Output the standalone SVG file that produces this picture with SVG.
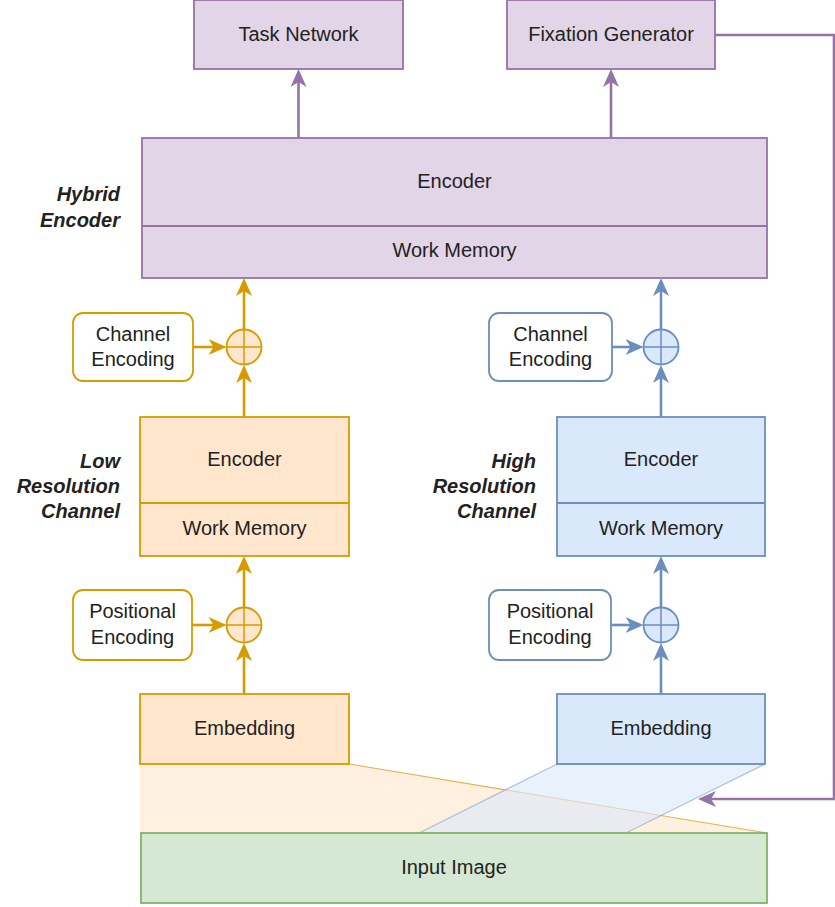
<svg xmlns="http://www.w3.org/2000/svg" width="835" height="907" viewBox="0 0 835 907">
<style>
text{font-family:"Liberation Sans",Arial,sans-serif;font-size:20px;fill:#222;text-anchor:middle}
.lbl{font-weight:bold;font-style:italic;text-anchor:end}
.pur{fill:#e1d5e7;stroke:#9673a6;stroke-width:1.8}
.org{fill:#ffe6cc;stroke:#d79b00;stroke-width:1.8}
.blu{fill:#dae8fc;stroke:#6c8ebf;stroke-width:1.8}
.grn{fill:#d5e8d4;stroke:#82b366;stroke-width:1.8}
.orgR{fill:#fff;stroke:#d79b00;stroke-width:1.8}
.bluR{fill:#fff;stroke:#6c8ebf;stroke-width:1.8}
.ca{stroke:#d79b00;stroke-width:2.6;fill:none;marker-end:url(#mo)}
.cb{stroke:#6c8ebf;stroke-width:2.6;fill:none;marker-end:url(#mb)}
.cp{stroke:#9673a6;stroke-width:2.6;fill:none;marker-end:url(#mp)}
.xo{stroke:#d79b00;stroke-width:1.5}
.xb{stroke:#6c8ebf;stroke-width:1.5}
</style>
<defs>
<marker id="mo" markerUnits="userSpaceOnUse" markerWidth="18" markerHeight="16" refX="14" refY="8" orient="auto"><path d="M0,0 L18,8 L0,16 L5,8 z" fill="#d79b00"/></marker>
<marker id="mb" markerUnits="userSpaceOnUse" markerWidth="18" markerHeight="16" refX="14" refY="8" orient="auto"><path d="M0,0 L18,8 L0,16 L5,8 z" fill="#6c8ebf"/></marker>
<marker id="mp" markerUnits="userSpaceOnUse" markerWidth="18" markerHeight="16" refX="14" refY="8" orient="auto"><path d="M0,0 L18,8 L0,16 L5,8 z" fill="#9673a6"/></marker>
</defs>

<g id="projections">
<polygon points="140,764 349,764 767,833 140,833" fill="#ffe6cc" fill-opacity="0.6"/>
<line x1="349" y1="764" x2="767" y2="833" stroke="#e6b24d" stroke-width="1.2"/>
<polygon points="557,764 765,764 626,833 419,833" fill="#dae8fc" fill-opacity="0.6" stroke="#6c8ebf" stroke-opacity="0.5" stroke-width="1.2"/>
</g>

<g id="task-network"><rect class="pur" x="194" y="0" width="209" height="69"/><text x="298.5" y="41">Task Network</text></g>
<g id="fixation-generator"><rect class="pur" x="507" y="0" width="208" height="69"/><text x="611" y="41">Fixation Generator</text></g>

<g id="hybrid-encoder">
<rect class="pur" x="142" y="138" width="625" height="140"/>
<line x1="142" y1="226" x2="767" y2="226" stroke="#9673a6" stroke-width="1.8"/>
<text x="454.5" y="188">Encoder</text>
<text x="454.5" y="257">Work Memory</text>
<text class="lbl" x="120" y="201">Hybrid</text>
<text class="lbl" x="120" y="227">Encoder</text>
</g>

<g id="low-channel-encoding"><rect class="orgR" x="73" y="313" width="120" height="68" rx="10"/><text x="133" y="341">Channel</text><text x="133" y="366">Encoding</text></g>
<g id="low-add-channel"><circle class="org" cx="244" cy="347" r="17.5"/><line class="xo" x1="226.5" y1="347" x2="261.5" y2="347"/><line class="xo" x1="244" y1="329.5" x2="244" y2="364.5"/></g>
<g id="low-encoder">
<rect class="org" x="140" y="417" width="209" height="139"/>
<line x1="140" y1="503" x2="349" y2="503" stroke="#d79b00" stroke-width="1.8"/>
<text x="244.5" y="466">Encoder</text>
<text x="244.5" y="535">Work Memory</text>
<text class="lbl" x="120" y="468">Low</text>
<text class="lbl" x="120" y="493">Resolution</text>
<text class="lbl" x="120" y="518">Channel</text>
</g>
<g id="low-positional-encoding"><rect class="orgR" x="73" y="590" width="119" height="70" rx="10"/><text x="132.5" y="618">Positional</text><text x="132.5" y="644">Encoding</text></g>
<g id="low-add-position"><circle class="org" cx="244" cy="625" r="17.5"/><line class="xo" x1="226.5" y1="625" x2="261.5" y2="625"/><line class="xo" x1="244" y1="607.5" x2="244" y2="642.5"/></g>
<g id="low-embedding"><rect class="org" x="140" y="694" width="209" height="70"/><text x="244.5" y="735">Embedding</text></g>

<g id="high-channel-encoding"><rect class="bluR" x="489" y="313" width="123" height="68" rx="10"/><text x="550.5" y="341">Channel</text><text x="550.5" y="366">Encoding</text></g>
<g id="high-add-channel"><circle class="blu" cx="661" cy="347" r="17.5"/><line class="xb" x1="643.5" y1="347" x2="678.5" y2="347"/><line class="xb" x1="661" y1="329.5" x2="661" y2="364.5"/></g>
<g id="high-encoder">
<rect class="blu" x="557" y="417" width="208" height="139"/>
<line x1="557" y1="503" x2="765" y2="503" stroke="#6c8ebf" stroke-width="1.8"/>
<text x="661" y="466">Encoder</text>
<text x="661" y="535">Work Memory</text>
<text class="lbl" x="536" y="468">High</text>
<text class="lbl" x="536" y="493">Resolution</text>
<text class="lbl" x="536" y="518">Channel</text>
</g>
<g id="high-positional-encoding"><rect class="bluR" x="489" y="590" width="122" height="70" rx="10"/><text x="550" y="618">Positional</text><text x="550" y="644">Encoding</text></g>
<g id="high-add-position"><circle class="blu" cx="661" cy="625" r="17.5"/><line class="xb" x1="643.5" y1="625" x2="678.5" y2="625"/><line class="xb" x1="661" y1="607.5" x2="661" y2="642.5"/></g>
<g id="high-embedding"><rect class="blu" x="557" y="694" width="208" height="70"/><text x="661" y="735">Embedding</text></g>

<g id="input-image"><rect class="grn" x="141" y="833" width="626" height="70"/><text x="454" y="874">Input Image</text></g>

<g id="connectors">
<line class="ca" x1="244" y1="694" x2="244" y2="647"/>
<line class="ca" x1="244" y1="607.5" x2="244" y2="560"/>
<line class="ca" x1="244" y1="417" x2="244" y2="369"/>
<line class="ca" x1="244" y1="329.5" x2="244" y2="282"/>
<line class="ca" x1="193" y1="347" x2="222.5" y2="347"/>
<line class="ca" x1="192" y1="625" x2="222.5" y2="625"/>
<line class="cb" x1="661" y1="694" x2="661" y2="647"/>
<line class="cb" x1="661" y1="607.5" x2="661" y2="560"/>
<line class="cb" x1="661" y1="417" x2="661" y2="369"/>
<line class="cb" x1="661" y1="329.5" x2="661" y2="282"/>
<line class="cb" x1="612" y1="347" x2="639.5" y2="347"/>
<line class="cb" x1="611" y1="625" x2="639.5" y2="625"/>
<line class="cp" x1="298.5" y1="138" x2="298.5" y2="73"/>
<line class="cp" x1="611" y1="138" x2="611" y2="73"/>
<path class="cp" d="M715,35 H834 V799 H702"/>
</g>
</svg>
